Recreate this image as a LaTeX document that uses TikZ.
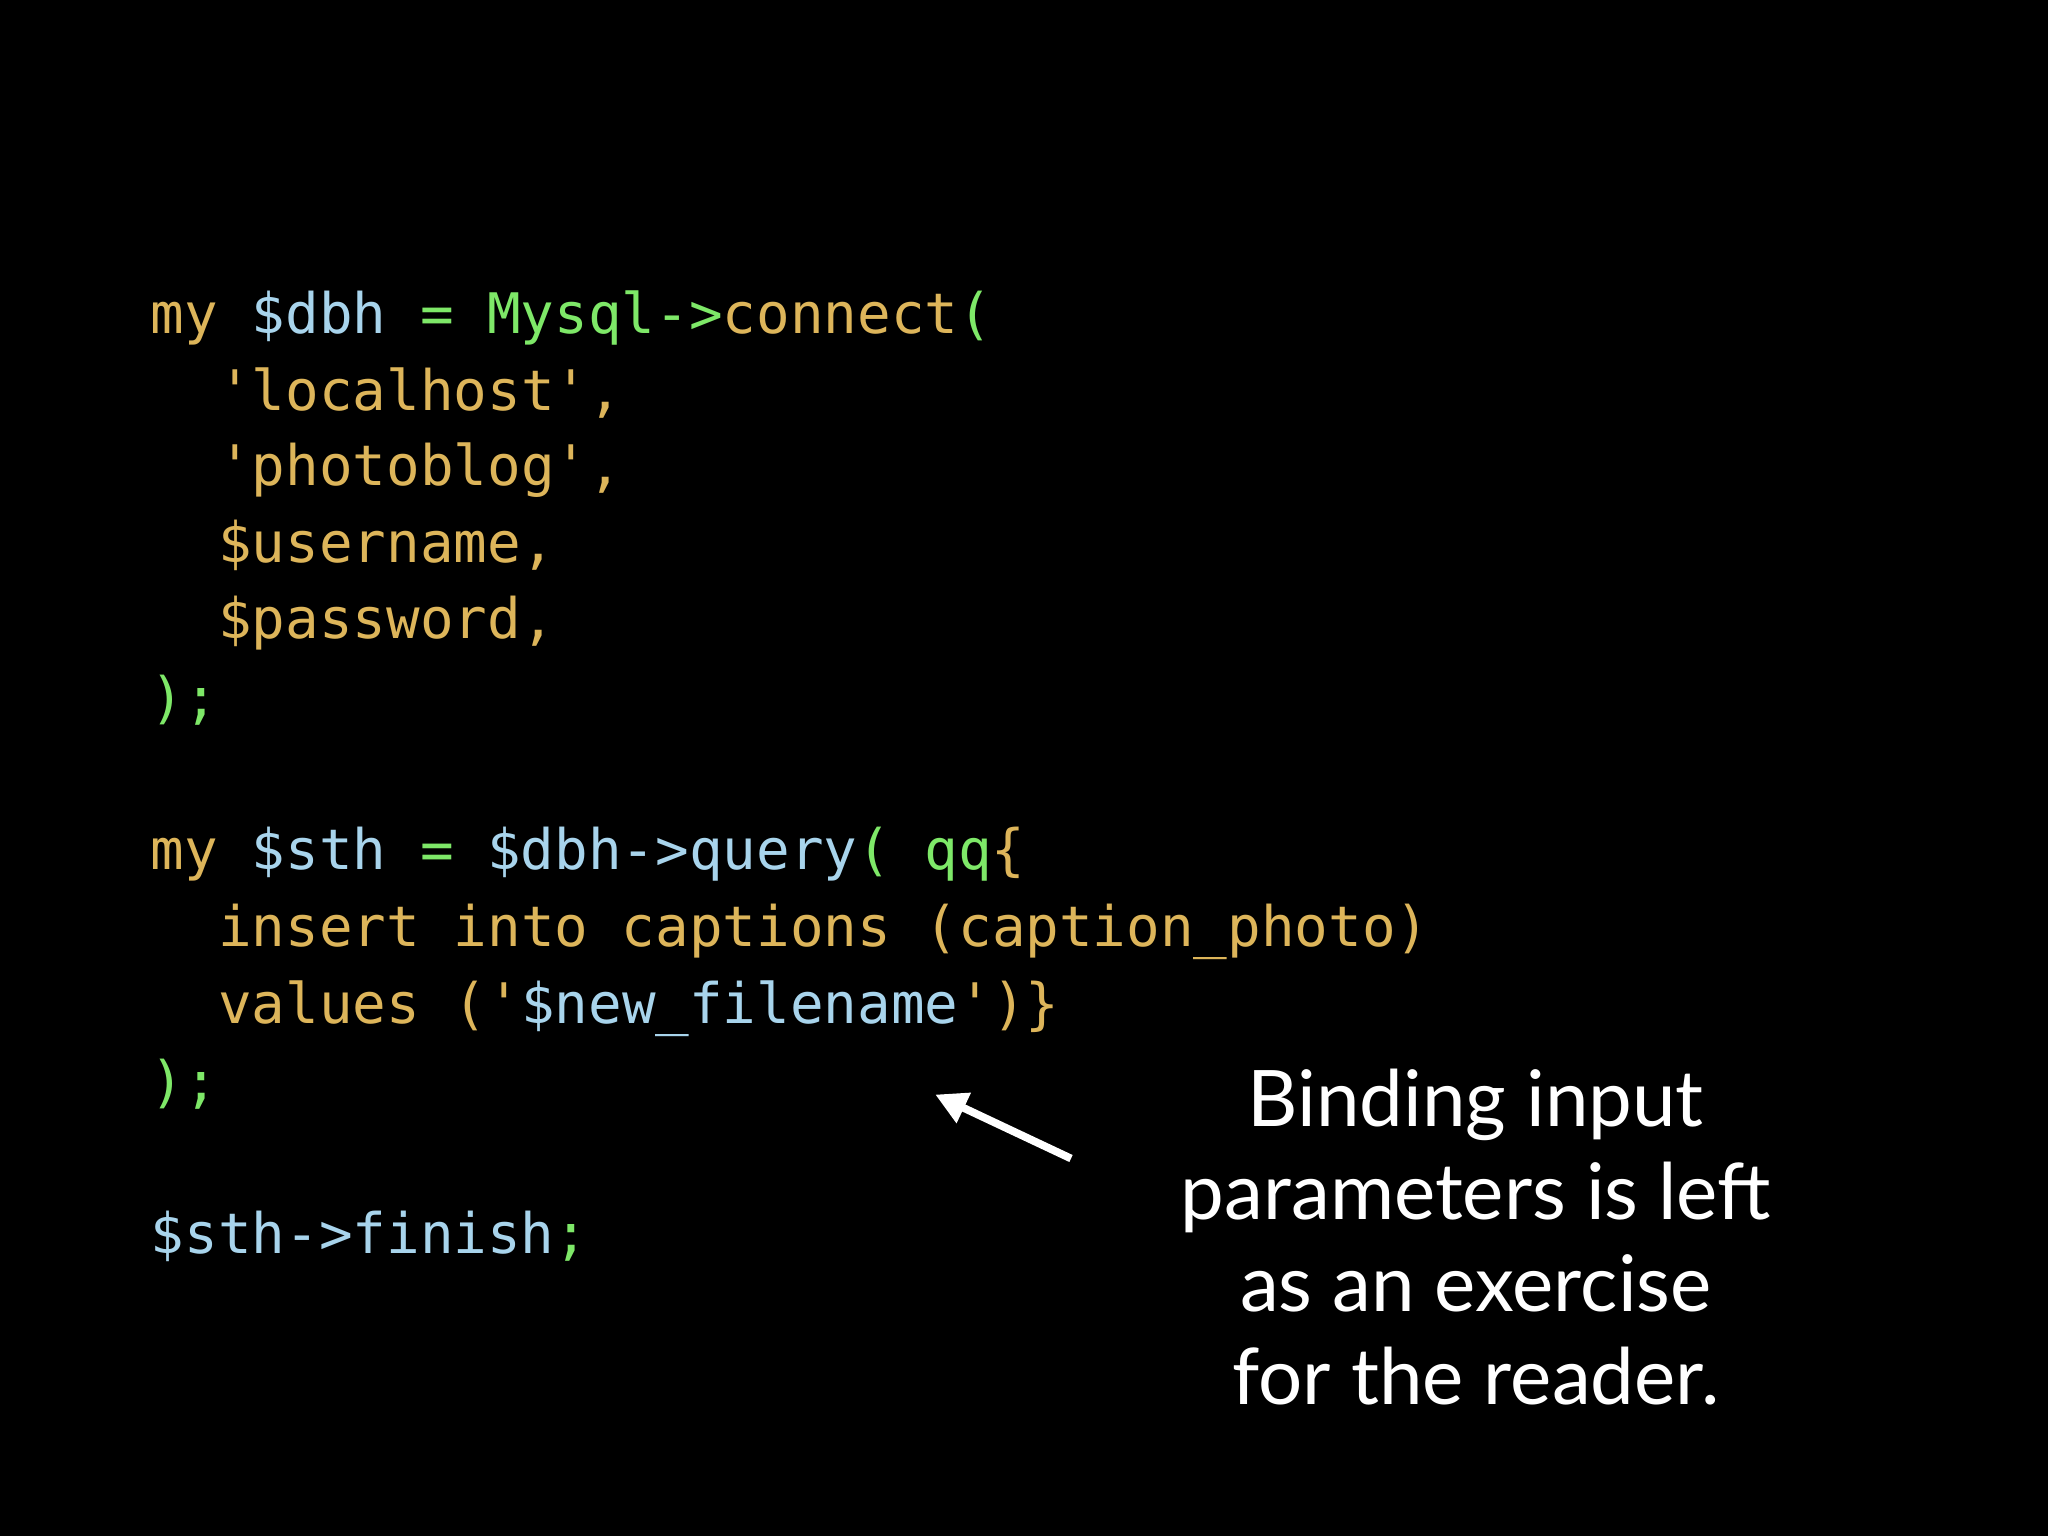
\documentclass[tikz,border=0pt]{standalone}
\usepackage{fontspec}
\setmonofont{DejaVu Sans Mono}
\newfontfamily\gill{Lato}
\usetikzlibrary{arrows.meta}
\definecolor{cgold}{HTML}{DDB55A}
\definecolor{cblue}{HTML}{A8D4EC}
\definecolor{cgreen}{HTML}{7EE868}
\newcommand{\G}[1]{\textcolor{cgold}{#1}}
\newcommand{\B}[1]{\textcolor{cblue}{#1}}
\newcommand{\N}[1]{\textcolor{cgreen}{#1}}
\begin{document}
\begin{tikzpicture}[x=0.013061cm,y=-0.013061cm,
  code/.style={anchor=base west,inner sep=0pt,font=\ttfamily\fontsize{15.9}{18}\selectfont},
  note/.style={align=center,text=white,inner sep=0pt,font=\gill\fontsize{22.2}{26.3}\selectfont}]
\fill[black] (0,0) rectangle (1568,1176);
\useasboundingbox (0,0) rectangle (1568,1176);
\node[code] (l1) at (115,255) {\G{my} \B{\$dbh} \N{= Mysql->}\G{connect}\N{(}};
\node[code] (l2) at (166.6,314) {\G{'localhost',}};
\node[code] (l3) at (166.6,372) {\G{'photoblog',}};
\node[code] (l4) at (166.6,431) {\G{\$username,}};
\node[code] (l5) at (166.6,489) {\G{\$password,}};
\node[code] (l6) at (115,549) {\N{);}};
\node[code] (l8) at (115,666) {\G{my} \B{\$sth} \N{=} \B{\$dbh->query}\N{( qq}\G{\{}};
\node[code] (l9) at (166.6,725) {\G{insert into captions (caption\_photo)}};
\node[code] (l10) at (166.6,784) {\G{values ('}\B{\$new\_filename}\G{')\}}};
\node[code] (l11) at (115,843) {\N{);}};
\node[code] (l13) at (115,960) {\B{\$sth->finish}\N{;}};
\node[note,anchor=base] (t) at (1130,1075) {Binding input\\parameters is left\\as an exercise\\for the reader.};
\coordinate (a1) at (820,887);
\coordinate (a2) at (716,838);
\draw[white,line width=2.2pt,-{Triangle[width=9pt,length=9pt]}] (a1) -- (a2);
\end{tikzpicture}
\end{document}
